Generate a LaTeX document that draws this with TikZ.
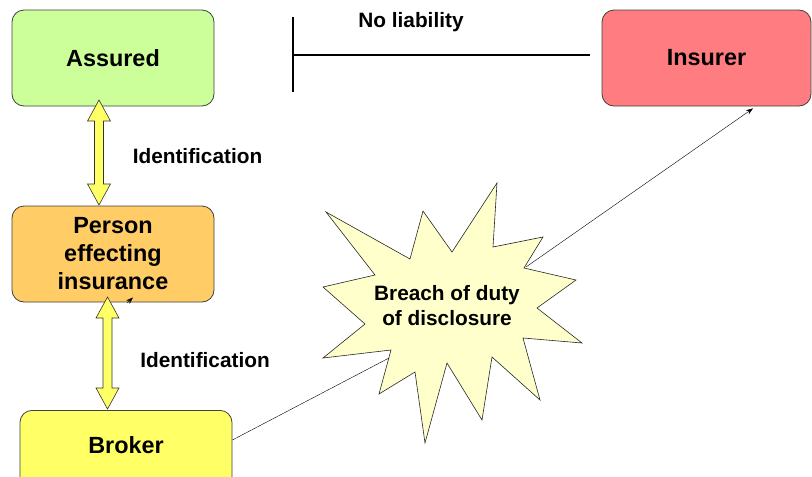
\documentclass[tikz,border=0pt]{standalone}
\usepackage{fontspec}
\setmainfont{Liberation Sans}
\usetikzlibrary{arrows.meta, calc}

\definecolor{assuredgreen}{HTML}{CCFF99}
\definecolor{personorange}{HTML}{FFCC66}
\definecolor{brokeryellow}{HTML}{FFFF66}
\definecolor{insurerred}{HTML}{FF7C80}
\definecolor{breachyellow}{HTML}{FFFFCC}

% block double arrow between two tips (same x)
\newcommand{\idarrow}[2]{%
  \filldraw[idarrow] (#1) -- ($(#1)+(11.5,21)$) -- ($(#1)+(4.5,21)$)
    -- ($(#2)+(4.5,-21)$) -- ($(#2)+(11.5,-21)$) -- (#2)
    -- ($(#2)+(-11.5,-21)$) -- ($(#2)+(-4.5,-21)$)
    -- ($(#1)+(-4.5,21)$) -- ($(#1)+(-11.5,21)$) -- cycle;}

\begin{document}
\begin{tikzpicture}[x=1pt,y=-1pt,
  >={Stealth[length=7pt,width=5pt]},
  party/.style={draw=black!75,line width=0.8pt,rounded corners=12pt,
    minimum width=202pt,minimum height=96pt,inner sep=0pt,align=center,
    font=\fontsize{23.4}{28}\selectfont\bfseries},
  tag/.style={inner sep=0pt,font=\fontsize{20.8}{25}\selectfont\bfseries},
  idarrow/.style={fill=brokeryellow,draw=black!80,line width=0.6pt},
  breach/.style={fill=breachyellow,draw=black!85,line width=0.6pt}]

  \useasboundingbox (0,0) rectangle (812,477);

  % parties
  \node[party,fill=assuredgreen] (assured) at (113,58) {Assured};
  \node[party,fill=personorange] (person) at (113,254) {Person\\effecting\\insurance};
  \node[party,fill=brokeryellow,minimum width=212pt,minimum height=0pt,
        text height=43pt,text depth=53pt,anchor=north] (broker) at (126,410) {Broker};
  \node[party,fill=insurerred,minimum width=209pt] (insurer) at (706.5,58) {Insurer};

  % identification arrows
  \coordinate (a1) at (99,100);
  \coordinate (a2) at (99,205);
  \coordinate (b1) at (107.5,297);
  \coordinate (b2) at (107.5,409);
  \idarrow{a1}{a2}
  \idarrow{b1}{b2}
  \node[tag] (ident1) at (197.5,156.5) {Identification};
  \node[tag] (ident2) at (205,360.5) {Identification};

  % stray arrow tip
  \coordinate (st1) at (127,303);
  \coordinate (st2) at (133,297.5);
  \draw[->,thin] (st1) -- (st2);

  % no liability
  \draw[line width=1.8pt] (293,17) -- (293,92);
  \draw[line width=1.8pt] (293,55) -- ($(insurer.west)+(-12,-3)$);
  \node[tag] (noliab) at (411,22) {No liability};

  % breach star
  \filldraw[breach] (326,212) -- (410,259) -- (423,211) -- (452,252)
    -- (497,183) -- (493,247) -- (543,237) -- (524,268) -- (576,280)
    -- (537,308) -- (582,343) -- (523,338) -- (540,400) -- (492,357)
    -- (482,420) -- (447,363) -- (425,443) -- (415,372) -- (379,394)
    -- (391,350) -- (323,358) -- (365,324) -- (323,287) -- (375,275) -- cycle;
  \node[tag,align=center,font=\fontsize{20.8}{25}\selectfont\bfseries] (disclosure)
    at (447,306) {Breach of duty\\of disclosure};
  \coordinate (sin) at (389,358);
  \coordinate (sout) at (526,267);

  % links
  \draw[thin] ($(broker.north east)+(0,30)$) -- (sin);
  \draw[->,thin] (sout) -- ($(insurer.south)+(46.5,2)$);
\end{tikzpicture}
\end{document}
